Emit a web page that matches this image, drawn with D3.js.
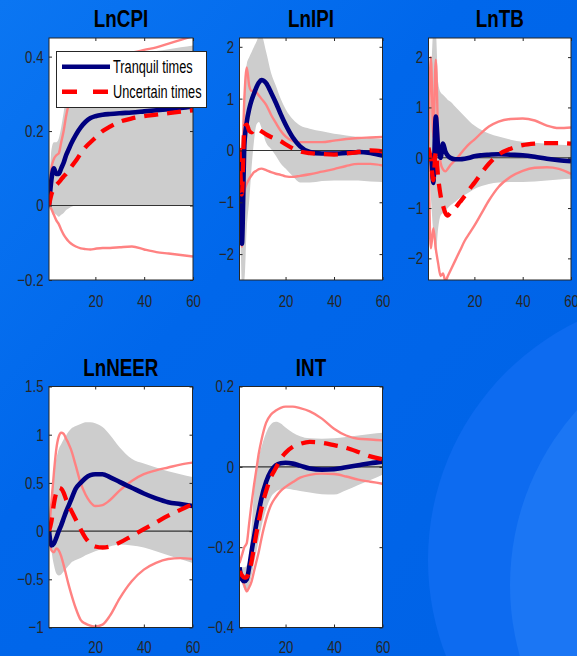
<!DOCTYPE html>
<html>
<head>
<meta charset="utf-8">
<script src="https://cdn.jsdelivr.net/npm/d3@7"></script>
<style>
  html, body { margin: 0; padding: 0; overflow: hidden; background: #0066ea; }
  svg { display: block; }
</style>
</head>
<body>
<svg id="chart" width="577" height="656"></svg>
<script>
// Impulse responses over a 60-period horizon: tranquil vs. uncertain regimes.
const horizons = [1,2,3,4,5,6,7,8,9,10,12,14,16,18,20,23,26,30,35,40,45,50,55,60];
const xTicks = [20, 40, 60];

// LnCPI
const cpiTranquil  = [0,0.07,0.1,0.085,0.085,0.1,0.115,0.135,0.15,0.165,0.19,0.21,0.225,0.235,0.24,0.244,0.246,0.248,0.25,0.253,0.256,0.259,0.262,0.266];
const cpiUncertain = [0,0.03,0.045,0.055,0.062,0.07,0.078,0.085,0.094,0.103,0.12,0.14,0.157,0.17,0.182,0.2,0.212,0.225,0.234,0.24,0.244,0.248,0.252,0.256];
const cpiBandLo    = [0,-0.01,-0.02,-0.025,-0.03,-0.025,-0.02,-0.012,-0.008,-0.004,0,0,0,0,0,0,0,0,0,0,0,0,0,0];
const cpiBandHi    = [0,0.15,0.17,0.17,0.18,0.21,0.25,0.29,0.32,0.34,0.37,0.385,0.39,0.392,0.395,0.398,0.4,0.402,0.405,0.41,0.415,0.42,0.425,0.43];
const cpiUncLo     = [0,-0.01,-0.025,-0.04,-0.05,-0.065,-0.078,-0.088,-0.096,-0.102,-0.11,-0.115,-0.117,-0.118,-0.116,-0.114,-0.114,-0.112,-0.11,-0.118,-0.125,-0.129,-0.133,-0.137];
const cpiUncHi     = [0,0.1,0.125,0.135,0.14,0.17,0.2,0.24,0.27,0.29,0.32,0.345,0.36,0.37,0.38,0.39,0.395,0.4,0.41,0.418,0.425,0.435,0.445,0.455];
const cpiDomain = [-0.2, 0.45];
const cpiTicks  = [-0.2, 0, 0.2, 0.4];

// LnIPI
const ipiTranquil  = [0,-1.8,0.1,0.55,0.8,0.97,1.1,1.22,1.31,1.36,1.3,1.12,0.92,0.7,0.5,0.25,0.08,-0.03,-0.06,-0.06,-0.05,-0.03,-0.05,-0.1];
const ipiUncertain = [0.05,-0.85,0.45,0.5,0.38,0.35,0.4,0.42,0.4,0.37,0.31,0.26,0.22,0.18,0.12,0.04,-0.02,-0.05,-0.07,-0.08,-0.06,-0.03,0,-0.02];
const ipiBandLo    = [0,-2.6,-2.5,-1.5,-0.97,-0.32,0.19,0.5,0.55,0.45,0.15,0.03,-0.1,-0.25,-0.35,-0.5,-0.62,-0.62,-0.59,-0.58,-0.58,-0.58,-0.6,-0.61];
const ipiBandHi    = [0,0.3,1.2,1.67,1.8,1.9,2.0,2.1,2.2,2.22,1.9,1.5,1.25,1.0,0.8,0.6,0.48,0.42,0.37,0.32,0.29,0.26,0.24,0.22];
const ipiUncLo     = [0,-1.86,-0.8,-0.64,-0.55,-0.48,-0.42,-0.39,-0.36,-0.35,-0.38,-0.42,-0.45,-0.47,-0.5,-0.51,-0.49,-0.46,-0.41,-0.36,-0.3,-0.26,-0.26,-0.29];
const ipiUncHi     = [0,-0.3,1.0,1.6,1.25,1.15,1.16,1.12,1.06,1.0,0.88,0.69,0.53,0.38,0.27,0.18,0.16,0.16,0.16,0.19,0.22,0.24,0.25,0.26];
const ipiDomain = [-2.5, 2.17];
const ipiTicks  = [-2, -1, 0, 1, 2];

// LnTB
const tbTranquil  = [0,0.05,-0.5,0.82,0.2,0,0.28,0.12,0.04,0,-0.03,-0.03,-0.02,0,0.03,0.05,0.06,0.07,0.06,0.05,0.02,-0.02,-0.05,-0.07];
const tbUncertain = [0.2,-0.05,-0.45,0.1,-0.4,-0.75,-0.95,-1.1,-1.15,-1.1,-1.0,-0.88,-0.76,-0.62,-0.5,-0.3,-0.12,0.06,0.18,0.25,0.28,0.29,0.29,0.28];
const tbBandLo    = [0,-0.8,-1.5,-1.9,-1.4,-1.15,-1.1,-1.05,-1.0,-0.95,-0.88,-0.8,-0.74,-0.68,-0.62,-0.56,-0.52,-0.49,-0.48,-0.48,-0.47,-0.45,-0.43,-0.42];
const tbBandHi    = [0,1.5,2.5,2.5,1.5,1.3,1.25,1.2,1.15,1.12,1.02,0.92,0.82,0.72,0.64,0.55,0.48,0.42,0.36,0.32,0.3,0.28,0.26,0.25];
const tbUncLo     = [0,-1.8,-1.4,-1.8,-2.1,-2.35,-2.3,-2.45,-2.35,-2.25,-2.05,-1.85,-1.65,-1.5,-1.35,-1.1,-0.85,-0.58,-0.38,-0.26,-0.2,-0.19,-0.22,-0.32];
const tbUncHi     = [0.1,2.0,0.4,1.95,0.45,-0.1,-0.23,-0.27,-0.22,-0.15,-0.05,0.06,0.18,0.28,0.36,0.5,0.62,0.72,0.77,0.78,0.74,0.64,0.59,0.6];
const tbDomain = [-2.43, 2.38];
const tbTicks  = [-2, -1, 0, 1, 2];

// LnNEER
const neerTranquil  = [0,-0.15,-0.13,-0.07,0,0.06,0.13,0.2,0.26,0.32,0.44,0.5,0.55,0.58,0.59,0.59,0.56,0.51,0.45,0.39,0.34,0.3,0.28,0.26];
const neerUncertain = [0,0.1,0.28,0.4,0.45,0.44,0.4,0.33,0.27,0.22,0.12,0.02,-0.07,-0.13,-0.16,-0.17,-0.16,-0.12,-0.05,0.02,0.09,0.16,0.22,0.28];
const neerBandLo    = [0,-0.2,-0.35,-0.44,-0.46,-0.45,-0.42,-0.39,-0.36,-0.33,-0.3,-0.28,-0.25,-0.23,-0.21,-0.18,-0.16,-0.14,-0.15,-0.17,-0.21,-0.25,-0.29,-0.33];
const neerBandHi    = [0,0.35,0.6,0.75,0.85,0.9,0.95,0.99,1.03,1.06,1.09,1.11,1.13,1.13,1.12,1.08,1.0,0.87,0.75,0.7,0.66,0.62,0.59,0.56];
const neerUncLo     = [0,-0.2,-0.22,-0.18,-0.2,-0.26,-0.35,-0.45,-0.55,-0.64,-0.8,-0.92,-0.96,-0.98,-0.99,-0.97,-0.88,-0.7,-0.52,-0.4,-0.33,-0.29,-0.28,-0.29];
const neerUncHi     = [0,0.3,0.6,0.85,0.98,1.02,1.01,0.96,0.91,0.85,0.68,0.5,0.38,0.3,0.26,0.27,0.32,0.42,0.52,0.59,0.63,0.66,0.69,0.71];
const neerDomain = [-1, 1.5];
const neerTicks  = [-1, -0.5, 0, 0.5, 1, 1.5];

// INT
const intTranquil  = [-0.25,-0.28,-0.285,-0.28,-0.25,-0.21,-0.175,-0.14,-0.11,-0.08,-0.037,-0.01,0.004,0.009,0.01,0.008,0.003,-0.004,-0.007,-0.006,-0.001,0.004,0.009,0.013];
const intUncertain = [-0.26,-0.27,-0.276,-0.275,-0.26,-0.235,-0.2,-0.165,-0.135,-0.105,-0.06,-0.025,-0.003,0.02,0.035,0.05,0.057,0.062,0.06,0.054,0.047,0.037,0.026,0.019];
const intBandLo    = [-0.27,-0.29,-0.305,-0.31,-0.295,-0.27,-0.24,-0.21,-0.18,-0.15,-0.105,-0.075,-0.062,-0.056,-0.054,-0.057,-0.06,-0.064,-0.068,-0.069,-0.058,-0.045,-0.033,-0.02];
const intBandHi    = [-0.25,-0.25,-0.25,-0.245,-0.22,-0.15,-0.06,-0.01,0.025,0.048,0.085,0.106,0.112,0.108,0.098,0.085,0.076,0.071,0.07,0.071,0.074,0.078,0.082,0.085];
const intUncLo     = [-0.26,-0.28,-0.295,-0.31,-0.3,-0.285,-0.26,-0.235,-0.21,-0.18,-0.13,-0.095,-0.075,-0.06,-0.05,-0.038,-0.027,-0.02,-0.017,-0.018,-0.024,-0.032,-0.037,-0.042];
const intUncHi     = [-0.24,-0.22,-0.2,-0.19,-0.14,-0.09,-0.045,-0.005,0.035,0.065,0.11,0.13,0.14,0.147,0.15,0.15,0.146,0.138,0.12,0.095,0.078,0.07,0.068,0.066];
const intDomain = [-0.4, 0.2];
const intTicks  = [-0.4, -0.2, 0, 0.2];

const titles = ["LnCPI", "LnIPI", "LnTB", "LnNEER", "INT"];
const legendLabels = ["Tranquil times", "Uncertain times"];

// Panel table assembled from the arrays above
const panels = [
  { title: titles[0], domain: cpiDomain,  ticks: cpiTicks,  tranquil: cpiTranquil,  uncertain: cpiUncertain,  bandLo: cpiBandLo,  bandHi: cpiBandHi,  uncLo: cpiUncLo,  uncHi: cpiUncHi },
  { title: titles[1], domain: ipiDomain,  ticks: ipiTicks,  tranquil: ipiTranquil,  uncertain: ipiUncertain,  bandLo: ipiBandLo,  bandHi: ipiBandHi,  uncLo: ipiUncLo,  uncHi: ipiUncHi },
  { title: titles[2], domain: tbDomain,   ticks: tbTicks,   tranquil: tbTranquil,   uncertain: tbUncertain,   bandLo: tbBandLo,   bandHi: tbBandHi,   uncLo: tbUncLo,   uncHi: tbUncHi },
  { title: titles[3], domain: neerDomain, ticks: neerTicks, tranquil: neerTranquil, uncertain: neerUncertain, bandLo: neerBandLo, bandHi: neerBandHi, uncLo: neerUncLo, uncHi: neerUncHi },
  { title: titles[4], domain: intDomain,  ticks: intTicks,  tranquil: intTranquil,  uncertain: intUncertain,  bandLo: intBandLo,  bandHi: intBandHi,  uncLo: intUncLo,  uncHi: intUncHi }
];

// Axes boxes (pixels) and gap between box bottom and the x tick labels
const boxes = [
  { left: 49,    top: 38,    width: 144,   height: 242, xPad: 15 },
  { left: 239.5, top: 38,    width: 143,   height: 242, xPad: 15 },
  { left: 428.5, top: 38,    width: 142.5, height: 242, xPad: 15 },
  { left: 49,    top: 386.5, width: 143.5, height: 241, xPad: 13 },
  { left: 239.5, top: 386.5, width: 143,   height: 241, xPad: 13 }
];

const FONT = "'Liberation Sans', Arial, Helvetica, sans-serif";
const AXIS_COLOR = "#262626";
const TICK_SX = 0.78;   // narrow glyphs for tick labels
const TITLE_SX = 0.8;
const LEGEND_SX = 0.69;

const svg = d3.select("#chart");
const W = 577, H = 656;
const defs = svg.append("defs");

// Backdrop: blue gradient with two soft circles in the lower right
const grad = defs.append("linearGradient").attr("id", "bg")
  .attr("x1", 0).attr("y1", 0).attr("x2", 1).attr("y2", 1);
grad.append("stop").attr("offset", "0%").attr("stop-color", "#0b76f2");
grad.append("stop").attr("offset", "40%").attr("stop-color", "#0067eb");
grad.append("stop").attr("offset", "100%").attr("stop-color", "#0062e6");
svg.append("rect").attr("width", W).attr("height", H).attr("fill", "url(#bg)");
svg.append("circle").attr("cx", 693).attr("cy", 560).attr("r", 265).attr("fill", "#0d6bf0");
svg.append("circle").attr("cx", 772).attr("cy", 585).attr("r", 262).attr("fill", "#1b76f4");

function narrowText(sel, sx) {
  sel.selectAll(".tick text").each(function () {
    const t = d3.select(this);
    const x = +t.attr("x") || 0;
    t.attr("x", x / sx).attr("transform", `scale(${sx},1)`);
  });
}

panels.forEach((p, i) => {
  const b = boxes[i];
  const x = d3.scaleLinear().domain([1, 60]).range([b.left, b.left + b.width]);
  const y = d3.scaleLinear().domain(p.domain).range([b.top + b.height, b.top]);
  const g = svg.append("g").attr("class", "panel");

  g.append("rect").attr("x", b.left).attr("y", b.top)
    .attr("width", b.width).attr("height", b.height).attr("fill", "#ffffff");

  const clipId = "clip" + i;
  defs.append("clipPath").attr("id", clipId).append("rect")
    .attr("x", b.left).attr("y", b.top).attr("width", b.width).attr("height", b.height);
  const plot = g.append("g").attr("clip-path", `url(#${clipId})`);

  const band = d3.area()
    .x((d, k) => x(horizons[k]))
    .y0(d => y(d[0]))
    .y1(d => y(d[1]))
    .curve(d3.curveMonotoneX);
  plot.append("path").datum(d3.zip(p.bandLo, p.bandHi))
    .attr("d", band).attr("fill", "#cdcdcd").attr("stroke", "none");

  plot.append("line")
    .attr("x1", x(1)).attr("x2", x(60)).attr("y1", y(0)).attr("y2", y(0))
    .attr("stroke", "#333333").attr("stroke-width", 1.1);

  const line = d3.line()
    .x((d, k) => x(horizons[k]))
    .y(d => y(d))
    .curve(d3.curveMonotoneX);

  [p.uncLo, p.uncHi].forEach(s => {
    plot.append("path").datum(s).attr("d", line)
      .attr("fill", "none").attr("stroke", "#ff8282").attr("stroke-width", 2.4);
  });
  plot.append("path").datum(p.tranquil).attr("d", line)
    .attr("fill", "none").attr("stroke", "#00007f").attr("stroke-width", 4.6)
    .attr("stroke-linejoin", "round");
  plot.append("path").datum(p.uncertain).attr("d", line)
    .attr("fill", "none").attr("stroke", "#ff0000").attr("stroke-width", 4.3)
    .attr("stroke-dasharray", "14 9");

  // Axes with inward ticks on all four sides
  const axStyle = sel => {
    sel.attr("font-family", FONT).attr("font-size", 17).attr("fill", AXIS_COLOR);
    sel.select(".domain").remove();
    sel.selectAll(".tick line").attr("stroke", AXIS_COLOR).attr("stroke-width", 1);
    sel.selectAll(".tick text").attr("fill", AXIS_COLOR);
  };
  const left = g.append("g").attr("transform", `translate(${b.left},0)`)
    .call(d3.axisLeft(y).tickValues(p.ticks).tickSizeInner(-3).tickSizeOuter(0).tickPadding(5.5)
      .tickFormat(d3.format("")));
  axStyle(left);
  narrowText(left, TICK_SX);

  g.append("g").attr("transform", `translate(${b.left + b.width},0)`)
    .call(d3.axisRight(y).tickValues(p.ticks).tickSizeInner(-3).tickSizeOuter(0).tickFormat(""))
    .call(axStyle);

  const bottom = g.append("g").attr("transform", `translate(0,${b.top + b.height})`)
    .call(d3.axisBottom(x).tickValues(xTicks).tickSizeInner(-3).tickSizeOuter(0).tickPadding(b.xPad));
  axStyle(bottom);
  narrowText(bottom, TICK_SX);

  g.append("g").attr("transform", `translate(0,${b.top})`)
    .call(d3.axisTop(x).tickValues(xTicks).tickSizeInner(-3).tickSizeOuter(0).tickFormat(""))
    .call(axStyle);

  g.append("rect").attr("x", b.left).attr("y", b.top)
    .attr("width", b.width).attr("height", b.height)
    .attr("fill", "none").attr("stroke", AXIS_COLOR).attr("stroke-width", 1);

  g.append("text")
    .attr("transform", `translate(${b.left + b.width / 2},${b.top - 11}) scale(${TITLE_SX},1)`)
    .attr("text-anchor", "middle")
    .attr("font-family", FONT).attr("font-size", 23.5).attr("font-weight", "bold")
    .attr("fill", "#000000")
    .text(p.title);
});

// Legend in the first panel
const lg = svg.append("g").attr("class", "legend");
lg.append("rect").attr("x", 56.5).attr("y", 51.5).attr("width", 150).attr("height", 56)
  .attr("fill", "#ffffff").attr("stroke", AXIS_COLOR).attr("stroke-width", 1);
const legendStyles = [
  { color: "#00007f", dash: null, width: 4.4 },
  { color: "#ff0000", dash: "15 16", width: 4.4 }
];
legendLabels.forEach((label, k) => {
  const cy = 66.7 + k * 25;
  const s = legendStyles[k];
  lg.append("line").attr("x1", 62).attr("x2", 110).attr("y1", cy).attr("y2", cy)
    .attr("stroke", s.color).attr("stroke-width", s.width)
    .attr("stroke-dasharray", s.dash);
  lg.append("text")
    .attr("transform", `translate(113,${cy + 6.5}) scale(${LEGEND_SX},1)`)
    .attr("font-family", FONT).attr("font-size", 18.5).attr("fill", "#000000")
    .text(label);
});
</script>
</body>
</html>
